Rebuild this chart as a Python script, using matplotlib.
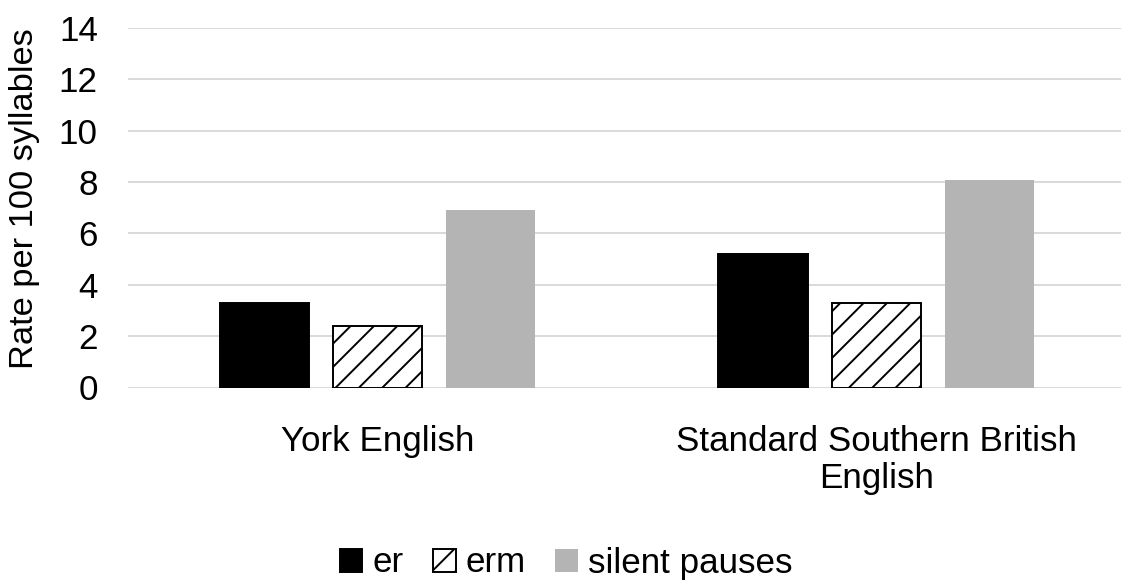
import matplotlib
matplotlib.use("Agg")
import matplotlib.pyplot as plt
import numpy as np

categories = ["York English", "Standard Southern British\nEnglish"]
series_names = ["er", "erm", "silent pauses"]
er = [3.3, 5.2]
erm = [2.4, 3.3]
silent = [6.9, 8.1]
y_ticks = [0, 2, 4, 6, 8, 10, 12, 14]

plt.rcParams['font.family'] = ['Liberation Sans', 'DejaVu Sans']
plt.rcParams['hatch.linewidth'] = 1.0

DPI = 140
fig = plt.figure(figsize=(1121 / DPI, 585 / DPI), dpi=DPI)
W, H = 1121, 585
left_px, right_px, top_px, bottom_px = 128, 1121, 28, 387.5
ax = fig.add_axes([left_px / W, 1 - bottom_px / H, (right_px - left_px) / W, (bottom_px - top_px) / H])

x = np.arange(len(categories))
bw = 0.179
off = 0.227
ax.bar(x - off, er, width=bw, color='black', edgecolor='black', linewidth=1.0, label=series_names[0], zorder=3)
ax.bar(x, erm, width=bw, color='white', edgecolor='black', linewidth=1.0, hatch='//', label=series_names[1], zorder=3)
ax.bar(x + off, silent, width=bw, color='#b4b4b4', edgecolor='#b4b4b4', linewidth=0.0, label=series_names[2], zorder=3)

ax.set_xlim(-0.5, 1.5 - (1125.8 - 1121) / 498.6)
ax.set_ylim(0, 14)
ax.set_yticks(y_ticks)
ax.set_yticklabels([str(t) for t in y_ticks], fontsize=18)
ax.set_xticks(x)
ax.set_xticklabels(categories, fontsize=18, linespacing=1.12)
ax.tick_params(axis='y', length=0, pad=15.5)
ax.tick_params(axis='x', length=0, pad=19.5)
for s in ax.spines.values():
    s.set_visible(False)
ax.yaxis.grid(True, color='#d9d9d9', linewidth=1.0, zorder=0)
ax.set_axisbelow(True)

fig.text(25 / W, 1 - 199 / H, "Rate per 100 syllables", rotation=90, ha='center', va='center', fontsize=17.7)

leg = fig.legend(loc='center', bbox_to_anchor=(566 / W, 1 - 563 / H), ncol=3, frameon=False,
                 fontsize=18, handlelength=0.65, handleheight=0.65, handletextpad=0.28,
                 columnspacing=0.85, borderaxespad=0, borderpad=0)

fig.savefig("out.png", dpi=DPI)
